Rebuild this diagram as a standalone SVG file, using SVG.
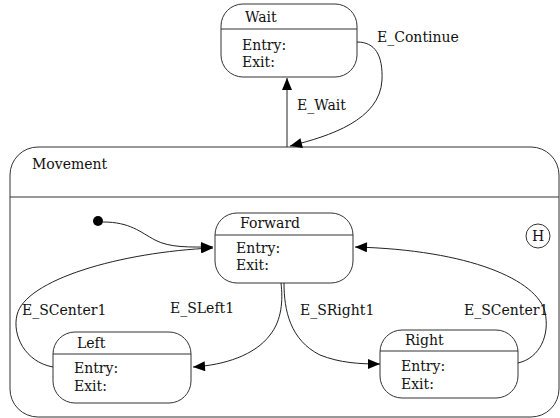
<svg xmlns="http://www.w3.org/2000/svg" width="560" height="418" viewBox="0 0 560 418">
<style>
.box{fill:none;stroke:#333;stroke-width:1}
.div{stroke:#333;stroke-width:1}
text{font-family:"DejaVu Serif","Liberation Serif",serif;font-size:14px;fill:#111}
.c{fill:none;stroke:#222;stroke-width:1}
</style>
<defs>
<marker id="ah" viewBox="0 0 12 10" refX="12" refY="5" markerWidth="13" markerHeight="10" markerUnits="userSpaceOnUse" orient="auto">
<path d="M0,0 L12,5 L0,10 Z" fill="#000"/>
</marker>
</defs>
<rect width="560" height="418" fill="#fff"/>
<g id="movement">
<rect class="box" x="10" y="147" width="549" height="270" rx="28"/>
<line class="div" x1="10" y1="197" x2="559" y2="197"/>
<text x="32" y="169">Movement</text>
</g>
<g id="wait">
<rect class="box" x="221" y="4" width="136" height="73" rx="22"/>
<line class="div" x1="221" y1="29" x2="357" y2="29"/>
<text x="245" y="22">Wait</text>
<text x="242" y="50">Entry:</text>
<text x="242" y="67">Exit:</text>
</g>
<g id="forward">
<rect class="box" x="215" y="213" width="138" height="70" rx="22"/>
<line class="div" x1="215" y1="235" x2="353" y2="235"/>
<text x="240" y="228">Forward</text>
<text x="236" y="253">Entry:</text>
<text x="236" y="270">Exit:</text>
</g>
<g id="left">
<rect class="box" x="53" y="332" width="138" height="71" rx="22"/>
<line class="div" x1="53" y1="354" x2="191" y2="354"/>
<text x="77" y="348">Left</text>
<text x="74" y="373">Entry:</text>
<text x="74" y="391">Exit:</text>
</g>
<g id="right">
<rect class="box" x="380" y="330" width="138" height="68" rx="22"/>
<line class="div" x1="380" y1="351" x2="518" y2="351"/>
<text x="405" y="345">Right</text>
<text x="401" y="371">Entry:</text>
<text x="401" y="389">Exit:</text>
</g>
<g id="initial">
<circle cx="98" cy="221" r="5" fill="#000"/>
</g>
<g id="history">
<circle class="box" cx="538" cy="236" r="12"/>
<text x="538" y="241" text-anchor="middle">H</text>
</g>
<g id="connectors">
<path class="c" d="M287,147 L287,78" marker-end="url(#ah)"/>
<path class="c" d="M357,42 C375,42 383,55 382,80 C380,120 330,136 290,146" marker-end="url(#ah)"/>
<path class="c" d="M103,222 C130,222 140,232 155,240 C170,248 190,247 213,247" marker-end="url(#ah)"/>
<path class="c" d="M53,367 C25,362 12,335 17,315 C25,280 120,252 213,248" marker-end="url(#ah)"/>
<path class="c" d="M281,283 C283,300 282,320 270,335 C255,355 225,365 193,367" marker-end="url(#ah)"/>
<path class="c" d="M284,283 C284,310 290,340 320,355 C340,363 360,364 380,364" marker-end="url(#ah)"/>
<path class="c" d="M518,363 C540,358 550,335 545,312 C537,280 470,250 355,247" marker-end="url(#ah)"/>
<text x="377" y="42">E_Continue</text>
<text x="297" y="110">E_Wait</text>
<text x="22" y="315">E_SCenter1</text>
<text x="170" y="313">E_SLeft1</text>
<text x="300" y="315">E_SRight1</text>
<text x="464" y="315">E_SCenter1</text>
</g>
</svg>
